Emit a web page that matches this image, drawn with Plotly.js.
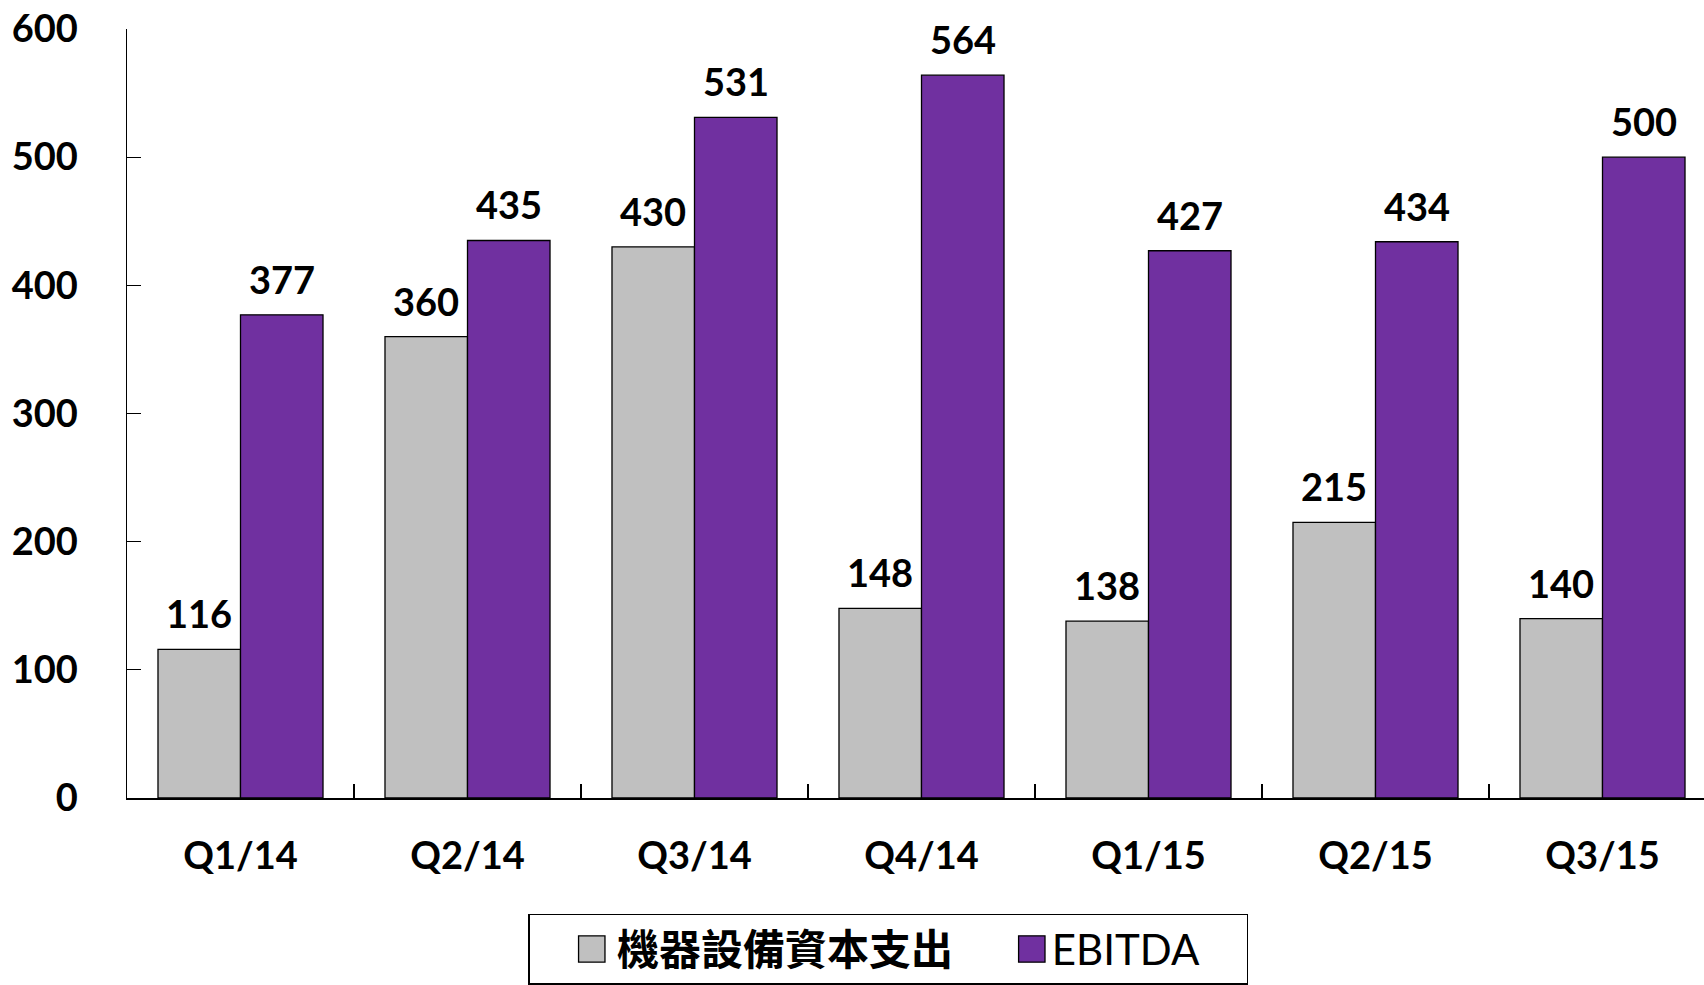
<!DOCTYPE html>
<html>
<head>
<meta charset="utf-8">
<script src="https://cdn.plot.ly/plotly-3.0.1.min.js"></script>
<style>html,body{margin:0;padding:0;background:#fff;}#chart{width:1704px;height:985px;}</style>
</head>
<body>
<div id="chart"></div>
<script>
const categories = ['Q1/14', 'Q2/14', 'Q3/14', 'Q4/14', 'Q1/15', 'Q2/15', 'Q3/15'];
const capexName = '機器設備資本支出';
const capexValues = [116, 360, 430, 148, 138, 215, 140];
const ebitdaName = 'EBITDA';
const ebitdaValues = [377, 435, 531, 564, 427, 434, 500];
const yTicks = [0, 100, 200, 300, 400, 500, 600];

const W = 1704, H = 985;
const mL = 127, mT = 29, mB = 185;
const catPx = 227;
const plotW = W - mL;
const nVisible = plotW / catPx;
const bargap = 0.273;
const barPx = catPx * (1 - bargap) / 2;

const numFont = {family: 'Lato, "Open Sans", sans-serif', size: 38, color: '#000', weight: 'bold'};

const traces = [
  {type: 'bar', name: '\u2009<b>' + capexName + '</b>&nbsp;&nbsp;&nbsp;&nbsp;&nbsp;', x: categories, y: capexValues,
   marker: {color: '#C0C0C0', line: {color: '#000', width: 1.3}}, hoverinfo: 'skip'},
  {type: 'bar', name: ebitdaName + '&nbsp;&nbsp;&nbsp;&nbsp;', x: categories, y: ebitdaValues,
   marker: {color: '#7030A0', line: {color: '#000', width: 1.3}}, hoverinfo: 'skip'}
];

const annotations = [];
categories.forEach((c, i) => {
  annotations.push({x: c, y: capexValues[i], xref: 'x', yref: 'y', text: String(capexValues[i]),
    showarrow: false, xshift: -barPx / 2, yshift: 11, yanchor: 'bottom', font: numFont});
  annotations.push({x: c, y: ebitdaValues[i], xref: 'x', yref: 'y', text: String(ebitdaValues[i]),
    showarrow: false, xshift: barPx / 2, yshift: 11, yanchor: 'bottom', font: numFont});
});

const layout = {
  width: W, height: H,
  margin: {l: mL, r: 0, t: mT, b: mB, pad: 0},
  paper_bgcolor: '#fff', plot_bgcolor: '#fff',
  barmode: 'group', bargap: bargap, bargroupgap: 0,
  showlegend: true,
  legend: {
    orientation: 'h', x: (528 - mL) / plotW, xanchor: 'left',
    y: (800 - 916) / (H - mT - mB), yanchor: 'top',
    bordercolor: '#000', borderwidth: 1.5, bgcolor: '#fff',
    font: {family: 'Lato, "Noto Sans CJK TC", sans-serif', size: 42, color: '#000'},
    title: {text: '&nbsp;&nbsp;&nbsp;', side: 'left', font: {family: 'Lato', size: 42, color: '#000'}},
    traceorder: 'normal'
  },
  xaxis: {
    type: 'category', range: [-0.5, -0.5 + nVisible],
    showline: true, linecolor: '#000', linewidth: 1.5,
    ticks: 'inside', ticklen: 14, tickwidth: 1.3, tickcolor: '#000',
    tickson: 'boundaries', showgrid: false, zeroline: false,
    tickfont: numFont, ticklabelstandoff: 24, fixedrange: true
  },
  yaxis: {
    range: [0, 600], tickvals: yTicks, ticktext: yTicks.map(String),
    showline: true, linecolor: '#000', linewidth: 1.5,
    ticks: 'inside', ticklen: 14, tickwidth: 1.3, tickcolor: '#000',
    showgrid: false, zeroline: false,
    tickfont: numFont, ticklabelstandoff: 40, fixedrange: true
  },
  annotations: annotations
};

Plotly.newPlot('chart', traces, layout, {staticPlot: true, displayModeBar: false}).then(gd => {
  gd.querySelectorAll('.legend .legendpoints path').forEach(p => {
    const t = p.getAttribute('transform') || '';
    p.setAttribute('transform', t + ' scale(2.2)');
    p.style.strokeWidth = '0.6px';
  });
});
</script>
</body>
</html>
